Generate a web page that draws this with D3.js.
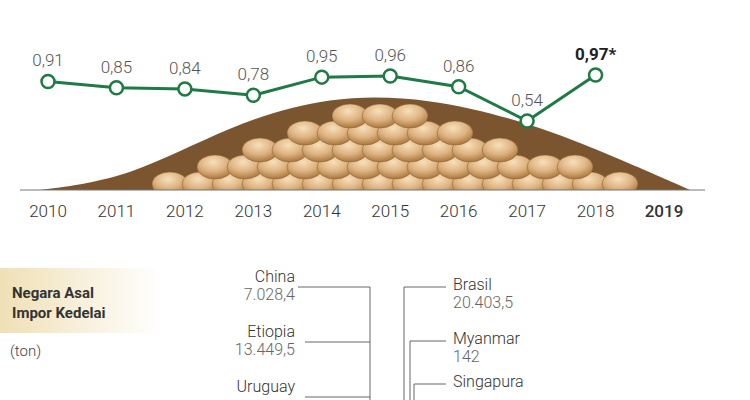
<!DOCTYPE html>
<html><head><meta charset="utf-8">
<script src="https://cdn.jsdelivr.net/npm/d3@7"></script>
<style>body{margin:0;background:#fff}text{font-family:Roboto,"Open Sans",sans-serif;font-weight:300}</style>
</head><body><svg id="c" width="750" height="400"></svg>
<script>
const years = ["2010","2011","2012","2013","2014","2015","2016","2017","2018","2019"];
const values = [0.91,0.85,0.84,0.78,0.95,0.96,0.86,0.54,0.97];
const valueLabels = ["0,91","0,85","0,84","0,78","0,95","0,96","0,86","0,54","0,97*"];
const leftCountries = ["China","Etiopia","Uruguay"];
const leftValues = ["7.028,4","13.449,5",""];
const rightCountries = ["Brasil","Myanmar","Singapura"];
const rightValues = ["20.403,5","142",""];

const svg = d3.select("#c");
const x = d3.scalePoint().domain(years).range([48,664]);
const y = d3.scaleLinear().domain([0.54,0.97]).range([121,75]);

const defs = svg.append("defs");
const g1 = defs.append("radialGradient").attr("id","bean").attr("cx","45%").attr("cy","30%").attr("r","70%");
g1.append("stop").attr("offset","0%").attr("stop-color","#f6e0bb");
g1.append("stop").attr("offset","55%").attr("stop-color","#deb381");
g1.append("stop").attr("offset","100%").attr("stop-color","#a9773f");
const mound = d3.area().curve(d3.curveBasis).x(d=>d[0]).y0(190).y1(d=>d[1]);
svg.append("path").datum([[40,190],[130,178],[230,125],[330,95],[430,98],[520,120],[600,150],[690,190]])
  .attr("d",mound).attr("fill","#7a5530");
const beanCols = d3.range(50,690,30);
d3.range(6).forEach(r=>{
  beanCols.forEach(cx=>{
    const bx = cx+(r%2?15:0);
    const top = 190-Math.max(0,95-Math.abs(bx-385)*0.34);
    const by = 184 - r*17;
    if(by>top+6) svg.append("ellipse").attr("cx",bx).attr("cy",by).attr("rx",18).attr("ry",12)
      .attr("fill","url(#bean)").attr("stroke","#8a5c2c").attr("stroke-width",0.5);
  });
});
svg.append("rect").attr("x",0).attr("y",190).attr("width",750).attr("height",20).attr("fill","#fff");

svg.append("line").attr("x1",20).attr("x2",705).attr("y1",190).attr("y2",190).attr("stroke","#777");
svg.selectAll(".yr").data(years).join("text").attr("x",d=>x(d)).attr("y",217).attr("text-anchor","middle")
  .attr("font-size",17).attr("fill","#333").style("font-weight",(d,i)=>i==9?"500":"300").text(d=>d);

const pts = values.map((v,i)=>[x(years[i]),y(v)]);
svg.append("path").attr("d",d3.line()(pts)).attr("fill","none").attr("stroke","#1f7a45").attr("stroke-width",3);
svg.selectAll(".pt").data(pts).join("circle").attr("cx",d=>d[0]).attr("cy",d=>d[1]).attr("r",6.5)
  .attr("fill","#fff").attr("stroke","#1f7a45").attr("stroke-width",2.5);
svg.selectAll(".vl").data(pts).join("text").attr("x",d=>d[0]).attr("y",d=>d[1]-15).attr("text-anchor","middle")
  .attr("font-size",17).attr("fill",(d,i)=>i==8?"#222":"#555").style("font-weight",(d,i)=>i==8?"700":"300")
  .attr("stroke","#fff").attr("stroke-width",3).attr("paint-order","stroke").text((d,i)=>valueLabels[i]);

const lg = defs.append("linearGradient").attr("id","box");
lg.append("stop").attr("offset","0%").attr("stop-color","#efe0b5");
lg.append("stop").attr("offset","100%").attr("stop-color","#fff");
svg.append("rect").attr("x",0).attr("y",268).attr("width",160).attr("height",65).attr("fill","url(#box)");
svg.append("text").attr("x",12).attr("y",298).attr("font-size",15).style("font-weight","700").attr("fill","#333").text("Negara Asal");
svg.append("text").attr("x",12).attr("y",318).attr("font-size",15).style("font-weight","700").attr("fill","#333").text("Impor Kedelai");
svg.append("text").attr("x",10).attr("y",356).attr("font-size",15).attr("fill","#444").text("(ton)");

const rowY = d3.scalePoint().domain(d3.range(3)).range([287,397]);
const rowYR = [287,341,384];
leftCountries.forEach((c,i)=>{
  const yy=rowY(i);
  svg.append("text").attr("x",295).attr("y",yy-5).attr("text-anchor","end").attr("font-size",16).attr("fill","#333").text(c);
  svg.append("text").attr("x",295).attr("y",yy+13).attr("text-anchor","end").attr("font-size",16).attr("fill","#666").text(leftValues[i]);
  svg.append("line").attr("x1",i==0?298:305).attr("x2",370).attr("y1",yy).attr("y2",yy).attr("stroke","#666");
});
svg.append("line").attr("x1",370).attr("x2",370).attr("y1",287).attr("y2",400).attr("stroke","#666");
const vx=[404,410,414];
rightCountries.forEach((c,i)=>{
  const yy=rowYR[i];
  svg.append("text").attr("x",453).attr("y",yy+3).attr("font-size",16).attr("fill","#333").text(c);
  svg.append("text").attr("x",453).attr("y",yy+21).attr("font-size",16).attr("fill","#666").text(rightValues[i]);
  svg.append("line").attr("x1",vx[i]).attr("x2",446).attr("y1",yy).attr("y2",yy).attr("stroke","#666");
  svg.append("line").attr("x1",vx[i]).attr("x2",vx[i]).attr("y1",yy).attr("y2",400).attr("stroke","#666");
});
</script></body></html>
